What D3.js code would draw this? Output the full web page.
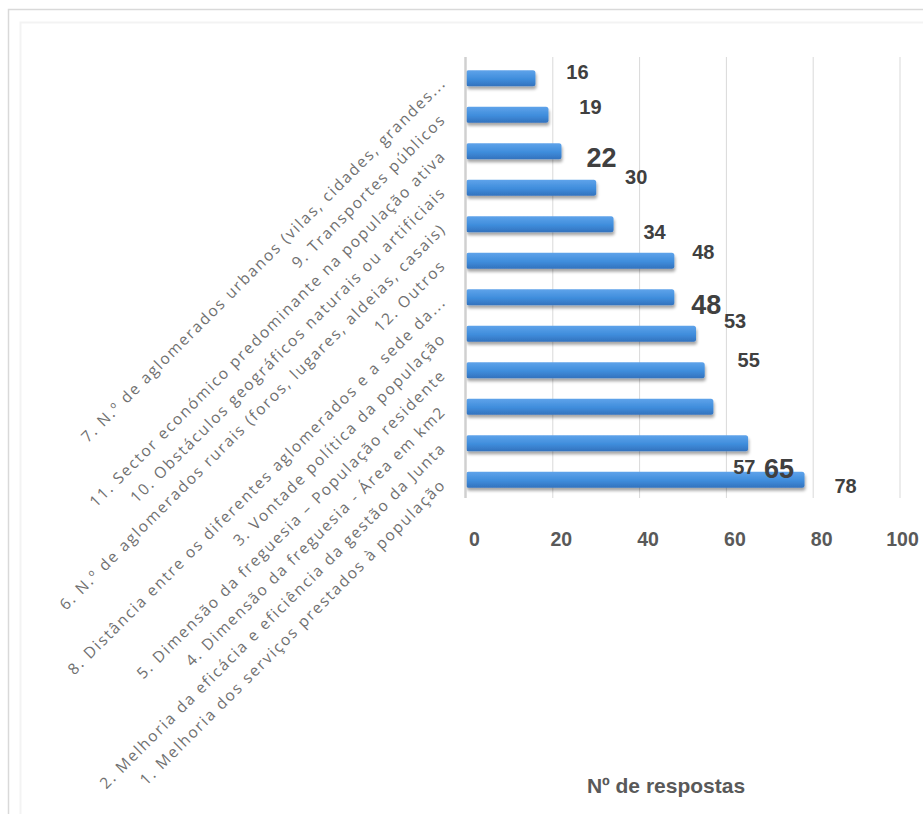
<!DOCTYPE html>
<html>
<head>
<meta charset="utf-8">
<script src="https://cdn.jsdelivr.net/npm/d3@7"></script>
<style>
  html, body { margin: 0; padding: 0; background: #fff; }
  svg { display: block; }
</style>
</head>
<body>
<div id="chart"></div>
<script>
// Categories, listed from the top bar to the bottom bar
const categories = [
  "7. N.º de aglomerados urbanos (vilas, cidades, grandes...",
  "9. Transportes públicos",
  "11. Sector económico predominante na população ativa",
  "10. Obstáculos geográficos naturais ou artificiais",
  "6. N.º de aglomerados rurais (foros, lugares, aldeias, casais)",
  "12. Outros",
  "8. Distância entre os diferentes aglomerados e a sede da...",
  "3. Vontade política da população",
  "5. Dimensão da freguesia – População residente",
  "4. Dimensão da freguesia - Área em km2",
  "2. Melhoria da eficácia e eficiência da gestão da Junta",
  "1. Melhoria dos serviços prestados à população"
];

// Number of answers per category
const respostas = [16, 19, 22, 30, 34, 48, 48, 53, 55, 57, 65, 78];

// Axis ticks
const xTicks = [0, 20, 40, 60, 80, 100];
const xTitle = "Nº de respostas";

const W = 923, H = 814;
const svg = d3.select("#chart").append("svg")
  .attr("width", W).attr("height", H);

// frame
svg.append("rect")
  .attr("x", 8.5).attr("y", 9.5)
  .attr("width", W + 20).attr("height", H + 20)
  .attr("fill", "#fff")
  .attr("stroke", "#d9d9d9").attr("stroke-width", 1.5);
svg.append("path")
  .attr("d", `M20.5,${H} V22.5 H${W}`)
  .attr("fill", "none").attr("stroke", "#f3f3f3").attr("stroke-width", 2);

const defs = svg.append("defs");
const grad = defs.append("linearGradient")
  .attr("id", "barFill").attr("x1", 0).attr("y1", 0).attr("x2", 0).attr("y2", 1);
grad.append("stop").attr("offset", "0%").attr("stop-color", "#5fa3ea");
grad.append("stop").attr("offset", "55%").attr("stop-color", "#3f8ddc");
grad.append("stop").attr("offset", "100%").attr("stop-color", "#3372bd");
const shadow = defs.append("filter").attr("id", "barShadow")
  .attr("x", "-10%").attr("y", "-40%").attr("width", "130%").attr("height", "200%");
shadow.append("feDropShadow")
  .attr("dx", 1).attr("dy", 3).attr("stdDeviation", 1.8)
  .attr("flood-color", "#000").attr("flood-opacity", 0.35);

const x = d3.scaleLinear().domain([0, 100]).range([466, 900]);
const y = d3.scaleBand().domain(categories).range([60, 498]).paddingInner(0.56).paddingOuter(0.28);

// vertical gridlines
svg.append("g")
  .selectAll("line")
  .data(xTicks.slice(1))
  .join("line")
  .attr("x1", d => x(d)).attr("x2", d => x(d))
  .attr("y1", 57).attr("y2", 498)
  .attr("stroke", "#d9d9d9").attr("stroke-width", 1);

// bars
svg.append("g")
  .selectAll("rect")
  .data(respostas)
  .join("rect")
  .attr("x", x(0))
  .attr("y", (d, i) => y(categories[i]))
  .attr("width", d => x(d) - x(0))
  .attr("height", y.bandwidth())
  .attr("rx", 2.5)
  .attr("fill", "url(#barFill)")
  .attr("filter", "url(#barShadow)");

// category axis line
svg.append("line")
  .attr("x1", x(0) - 0.5).attr("x2", x(0) - 0.5)
  .attr("y1", 57).attr("y2", 498)
  .attr("stroke", "#d0d0d0").attr("stroke-width", 2.5);

// value axis (labels only)
const xAxis = svg.append("g")
  .attr("transform", "translate(0,530)")
  .call(d3.axisBottom(x).tickValues(xTicks).tickSize(0).tickPadding(0));
xAxis.select(".domain").remove();
xAxis.selectAll("text")
  .attr("dx", d => d === 100 ? 2 : 8).attr("dy", 0)
  .attr("y", 16)
  .attr("fill", "#595959")
  .attr("font-family", "'Liberation Sans', Arial, sans-serif")
  .attr("font-weight", "bold")
  .attr("font-size", 19.5);

// rotated category labels
svg.append("g")
  .selectAll("text")
  .data(categories)
  .join("text")
  .attr("transform", d => `translate(443,${y(d) + y.bandwidth() / 2 + 2}) rotate(-45)`)
  .attr("text-anchor", "end")
  .attr("dy", "0.35em")
  .attr("fill", "#707070")
  .attr("font-family", "'Open Sans', sans-serif")
  .attr("font-size", 15.5)
  .attr("letter-spacing", 1.8)
  .text(d => d);

// data labels: offset from bar end, a few emphasised in larger type
const labelShift = [
  [42, -6], [42, -8], [40, 6], [40, -11], [41, 8], [29, -9],
  [32, 7], [39, -13], [44, -10], [31, 60], [31, 25], [41, 6]
];
const labelBig = [false, false, true, false, false, false, true, false, false, false, true, false];

svg.append("g")
  .selectAll("text")
  .data(respostas)
  .join("text")
  .attr("x", (d, i) => x(d) + labelShift[i][0])
  .attr("y", (d, i) => y(categories[i]) + y.bandwidth() / 2 + labelShift[i][1])
  .attr("text-anchor", "middle")
  .attr("dy", "0.36em")
  .attr("fill", "#404040")
  .attr("font-family", "'Liberation Sans', Arial, sans-serif")
  .attr("font-weight", "bold")
  .attr("font-size", (d, i) => labelBig[i] ? 27 : 20)
  .text(d => d);

// axis title
svg.append("text")
  .attr("x", 666).attr("y", 793)
  .attr("text-anchor", "middle")
  .attr("fill", "#595959")
  .attr("font-family", "'Liberation Sans', Arial, sans-serif")
  .attr("font-weight", "bold")
  .attr("font-size", 21)
  .text(xTitle);
</script>
</body>
</html>
